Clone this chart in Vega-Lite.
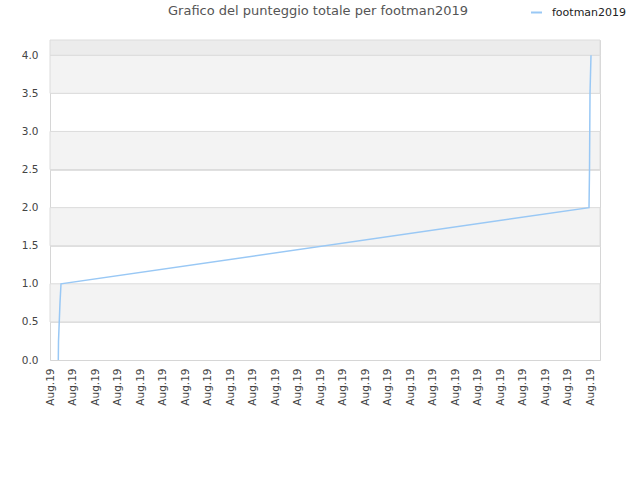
{
  "$schema": "https://vega.github.io/schema/vega-lite/v6.json",
  "autosize": "none",
  "width": 550,
  "height": 320,
  "padding": {"left": 50, "top": 40, "right": 40, "bottom": 120},
  "background": "white",
  "config": {
    "font": "DejaVu Sans",
    "view": {"stroke": "#d6d6d6", "strokeWidth": 1},
    "axisY": {
      "title": null,
      "values": [0, 0.5, 1, 1.5, 2, 2.5, 3, 3.5, 4],
      "format": ".1f",
      "labelFontSize": 10.5,
      "labelColor": "#444444",
      "labelPadding": 12,
      "labelOverlap": false,
      "ticks": false,
      "domain": false,
      "grid": true,
      "gridColor": "#e0e0e0",
      "gridWidth": 1,
      "zindex": 1
    }
  },
  "title": {
    "text": "Grafico del punteggio totale per footman2019",
    "fontSize": 13,
    "fontWeight": "normal",
    "color": "#555555",
    "anchor": "middle",
    "frame": "group",
    "dx": -7,
    "offset": -12
  },
  "datasets": {
    "bands": [
      {"y0": 0.5, "y1": 1.0, "shade": "a"},
      {"y0": 1.5, "y1": 2.0, "shade": "a"},
      {"y0": 2.5, "y1": 3.0, "shade": "a"},
      {"y0": 3.5, "y1": 4.0, "shade": "a"},
      {"y0": 4.0, "y1": 4.2, "shade": "b"}
    ],
    "series": [
      {"t": 0.369, "score": 0.0, "name": "footman2019"},
      {"t": 0.378, "score": 0.25, "name": "footman2019"},
      {"t": 0.444, "score": 0.75, "name": "footman2019"},
      {"t": 0.489, "score": 1.0, "name": "footman2019"},
      {"t": 23.956, "score": 2.0, "name": "footman2019"},
      {"t": 23.978, "score": 2.5, "name": "footman2019"},
      {"t": 24.0, "score": 3.5, "name": "footman2019"},
      {"t": 24.044, "score": 4.0, "name": "footman2019"}
    ]
  },
  "layer": [
    {
      "data": {"name": "bands"},
      "mark": {"type": "rect", "stroke": "#dcdcdc", "strokeWidth": 1},
      "encoding": {
        "y": {
          "field": "y0", "type": "quantitative",
          "scale": {"domain": [0, 4.2], "nice": false, "zero": false}
        },
        "y2": {"field": "y1"},
        "color": {"field": "shade", "type": "nominal", "scale": {"domain": ["a", "b"], "range": ["#f3f3f3", "#ececec"]}, "legend": null}
      }
    },
    {
      "data": {"name": "series"},
      "mark": {"type": "line", "strokeWidth": 1.5, "interpolate": "linear"},
      "encoding": {
        "x": {
          "field": "t", "type": "quantitative",
          "scale": {"domain": [0, 24.444], "nice": false, "zero": false},
          "axis": {
            "title": null,
            "values": [0,1,2,3,4,5,6,7,8,9,10,11,12,13,14,15,16,17,18,19,20,21,22,23,24],
            "labelExpr": "'Aug.19'",
            "labelAngle": -90,
            "labelAlign": "right",
            "labelBaseline": "middle",
            "labelFontSize": 10.5,
            "labelColor": "#444444",
            "labelPadding": 8,
            "labelOverlap": false,
            "labelFlush": false,
            "ticks": false,
            "domain": true,
            "domainColor": "#d6d6d6",
            "grid": false,
            "zindex": 1
          }
        },
        "y": {
          "field": "score", "type": "quantitative"
        },
        "stroke": {
          "field": "name", "type": "nominal",
          "scale": {"range": ["#99c8f5"]},
          "legend": {
            "title": null,
            "orient": "none",
            "legendX": 480,
            "legendY": -34,
            "symbolType": "stroke",
            "symbolSize": 120,
            "symbolStrokeWidth": 2,
            "labelFontSize": 11,
            "labelColor": "#222222",
            "labelOffset": 9
          }
        }
      }
    }
  ]
}
